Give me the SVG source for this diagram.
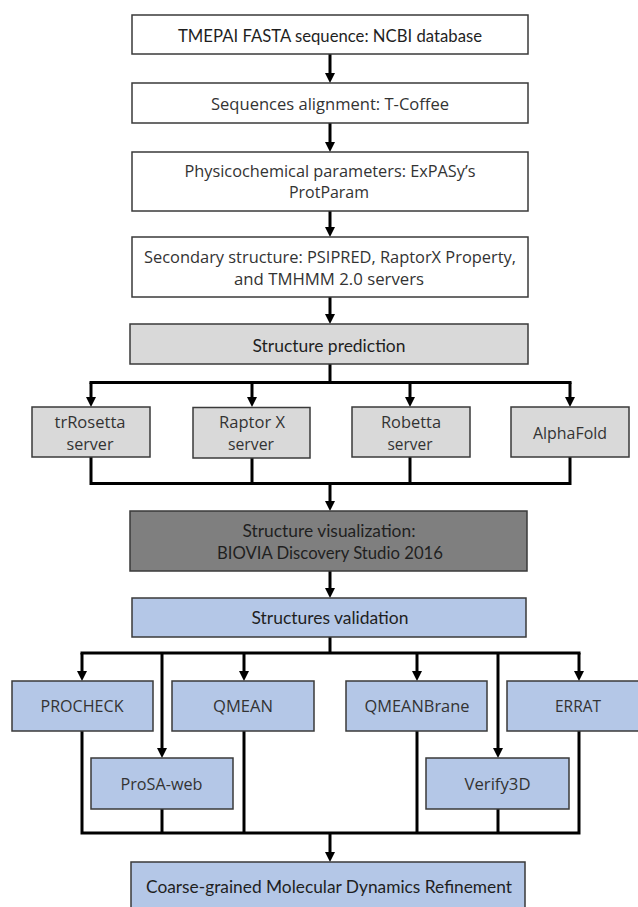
<svg xmlns="http://www.w3.org/2000/svg" width="638" height="907" viewBox="0 0 638 907">
<defs>
<style>
.box{stroke:#3a3a3a;stroke-width:1.5}
.w{fill:#ffffff}
.g{fill:#d9d9d9}
.d{fill:#7f7f7f}
.b{fill:#b4c7e7}
.t{font-family:"Open Sans","DejaVu Sans",sans-serif;font-size:16px;fill:#333333;text-anchor:middle}
.c{font-family:Lato,"Liberation Sans",sans-serif;font-size:17px;fill:#1f1f1f;text-anchor:middle}
.ln{fill:none;stroke:#000;stroke-width:3}
.sq{stroke-linecap:square}
.ar{marker-end:url(#ah)}
</style>
<marker id="ah" markerUnits="userSpaceOnUse" markerWidth="10" markerHeight="10" viewBox="0 0 10 10" refX="1" refY="5" orient="auto">
<path d="M0,0 L10,5 L0,10 z" fill="#000"/>
</marker>
</defs>
<g id="connectors">
<path class="ln ar" d="M330,54 V74"/>
<path class="ln ar" d="M330,123 V143"/>
<path class="ln ar" d="M330,211 V228"/>
<path class="ln ar" d="M330,297 V315"/>
<path class="ln" d="M330,364 V382.5"/>
<path class="ln sq" d="M91,382.5 H570"/>
<path class="ln ar" d="M91,382.5 V398"/>
<path class="ln ar" d="M252,382.5 V398"/>
<path class="ln ar" d="M410,382.5 V398"/>
<path class="ln ar" d="M570,382.5 V398"/>
<path class="ln" d="M91,457 V483.5 H570 V457"/>
<path class="ln" d="M252,457 V483.5"/>
<path class="ln" d="M410,457 V483.5"/>
<path class="ln ar" d="M330,483.5 V502"/>
<path class="ln ar" d="M330,571 V589"/>
<path class="ln" d="M330,637 V653"/>
<path class="ln sq" d="M82,653 H579"/>
<path class="ln ar" d="M82,653 V672"/>
<path class="ln ar" d="M162,653 V749"/>
<path class="ln ar" d="M244,653 V672"/>
<path class="ln ar" d="M417,653 V672"/>
<path class="ln ar" d="M498,653 V749"/>
<path class="ln ar" d="M579,653 V672"/>
<path class="ln" d="M82,731 V833 H579 V731"/>
<path class="ln" d="M162,809 V833"/>
<path class="ln" d="M244,731 V833"/>
<path class="ln" d="M417,731 V833"/>
<path class="ln" d="M498,809 V833"/>
<path class="ln ar" d="M330,833 V853"/>
</g>
<g id="n1"><rect class="box w" x="132" y="15" width="396" height="39"/><text class="c" x="330" y="41.5" textLength="304" lengthAdjust="spacingAndGlyphs">TMEPAI FASTA sequence: NCBI database</text></g>
<g id="n2"><rect class="box w" x="132" y="83" width="396" height="40"/><text class="t" x="330" y="110" textLength="238" lengthAdjust="spacingAndGlyphs">Sequences alignment: T-Coffee</text></g>
<g id="n3"><rect class="box w" x="132" y="152" width="396" height="59"/><text class="t" x="330" y="176.5" textLength="291" lengthAdjust="spacingAndGlyphs">Physicochemical parameters: ExPASy’s</text><text class="t" x="329" y="198" textLength="80" lengthAdjust="spacingAndGlyphs">ProtParam</text></g>
<g id="n4"><rect class="box w" x="132" y="237" width="396" height="60"/><text class="t" x="330" y="262.5" textLength="372" lengthAdjust="spacingAndGlyphs">Secondary structure: PSIPRED, RaptorX Property,</text><text class="t" x="329" y="285" textLength="190" lengthAdjust="spacingAndGlyphs">and TMHMM 2.0 servers</text></g>
<g id="n5"><rect class="box g" x="130" y="324" width="398" height="40"/><text class="c" x="329" y="351.5" textLength="153" lengthAdjust="spacingAndGlyphs">Structure prediction</text></g>
<g id="n6"><rect class="box g" x="32" y="407" width="118" height="50"/><text class="t" x="90" y="427.5" textLength="71" lengthAdjust="spacingAndGlyphs">trRosetta</text><text class="t" x="90" y="450" textLength="47" lengthAdjust="spacingAndGlyphs">server</text></g>
<g id="n7"><rect class="box g" x="193" y="407.5" width="117" height="50.5"/><text class="t" x="252" y="427.5" textLength="66" lengthAdjust="spacingAndGlyphs">Raptor X</text><text class="t" x="251" y="450" textLength="46" lengthAdjust="spacingAndGlyphs">server</text></g>
<g id="n8"><rect class="box g" x="352" y="407" width="118" height="50"/><text class="t" x="411" y="427.5" textLength="60" lengthAdjust="spacingAndGlyphs">Robetta</text><text class="t" x="410" y="450" textLength="45" lengthAdjust="spacingAndGlyphs">server</text></g>
<g id="n9"><rect class="box g" x="511" y="407" width="118" height="50"/><text class="t" x="570" y="439" textLength="74" lengthAdjust="spacingAndGlyphs">AlphaFold</text></g>
<g id="n10"><rect class="box d" x="130" y="511" width="397" height="60"/><text class="c" x="329" y="536.5" textLength="173" lengthAdjust="spacingAndGlyphs">Structure visualization:</text><text class="c" x="330" y="558.5" textLength="226" lengthAdjust="spacingAndGlyphs">BIOVIA Discovery Studio 2016</text></g>
<g id="n11"><rect class="box b" x="132" y="598" width="394" height="39"/><text class="c" x="330" y="623.5" textLength="157" lengthAdjust="spacingAndGlyphs">Structures validation</text></g>
<g id="n12"><rect class="box b" x="12" y="681" width="141" height="50"/><text class="t" x="82" y="712" textLength="83" lengthAdjust="spacingAndGlyphs">PROCHECK</text></g>
<g id="n13"><rect class="box b" x="172" y="681" width="142" height="50"/><text class="t" x="243" y="712" textLength="60" lengthAdjust="spacingAndGlyphs">QMEAN</text></g>
<g id="n14"><rect class="box b" x="346" y="681" width="141" height="50"/><text class="t" x="417" y="712" textLength="105" lengthAdjust="spacingAndGlyphs">QMEANBrane</text></g>
<g id="n15"><rect class="box b" x="507" y="681" width="142" height="50"/><text class="t" x="578" y="712" textLength="46" lengthAdjust="spacingAndGlyphs">ERRAT</text></g>
<g id="n16"><rect class="box b" x="91" y="758" width="142" height="51"/><text class="t" x="161.5" y="790" textLength="82" lengthAdjust="spacingAndGlyphs">ProSA-web</text></g>
<g id="n17"><rect class="box b" x="426" y="758" width="143" height="51"/><text class="t" x="497.5" y="790" textLength="66" lengthAdjust="spacingAndGlyphs">Verify3D</text></g>
<g id="n18"><rect class="box b" x="131" y="862" width="394" height="60"/><text class="c" x="329" y="892.5" textLength="366" lengthAdjust="spacingAndGlyphs">Coarse-grained Molecular Dynamics Refinement</text></g>
</svg>
